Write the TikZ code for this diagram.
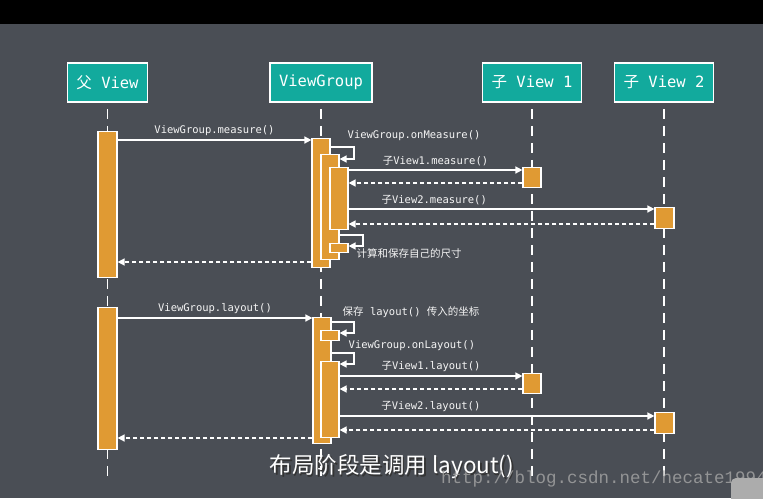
\documentclass[tikz,border=0pt]{standalone}
\usepackage{fontspec}
\setmonofont{DejaVu Sans Mono}
\newfontfamily\cjk{Noto Sans CJK SC}
\newfontfamily\wmfont{Liberation Mono}
\usetikzlibrary{arrows.meta}

\definecolor{bgcol}{HTML}{4A4E55}
\definecolor{headcol}{HTML}{12AA9D}
\definecolor{barcol}{HTML}{E09A33}

\tikzset{
  head/.style={draw=white, line width=1.5pt, fill=headcol, text=white, minimum height=39pt,
    inner xsep=9pt, font=\ttfamily\fontsize{15.5}{16}\selectfont},
  life/.style={draw=white, line width=1.8pt, dash pattern=on 10pt off 7pt},
  bar/.style={draw=white, line width=1.2pt, fill=barcol, minimum width=18pt, inner sep=0pt, anchor=north},
  call/.style={draw=white, line width=1.5pt, -{Triangle[length=7pt,width=7pt]}},
  ret/.style={call, dash pattern=on 4pt off 3pt},
  msg/.style={text=white!92!gray, font=\ttfamily\fontsize{10.5}{11}\selectfont, inner sep=1.5pt},
  lbl/.style={msg, above, yshift=2pt}
}

\begin{document}
\begin{tikzpicture}[x=1pt, y=-1pt]
\useasboundingbox (0,0) rectangle (763,498);
\clip (0,0) rectangle (763,498);
\fill[bgcol] (0,0) rectangle (763,498);
\fill[black] (0,0) rectangle (763,24);

\node[head] (P) at (107.5,82.5) {{\cjk 父} View};
\node[head] (G) at (321,82.5) {ViewGroup};
\node[head] (C1) at (532,82.5) {{\cjk 子} View 1};
\node[head] (C2) at (664,82.5) {{\cjk 子} View 2};

\draw[life] ([yshift=-6pt]P.south) -- (P.south |- 0,480);
\draw[life] ([yshift=-6pt]G.south) -- (G.south |- 0,480);
\draw[life] ([yshift=-6pt]C1.south) -- (C1.south |- 0,480);
\draw[life] ([yshift=-6pt]C2.south) -- (C2.south |- 0,480);

\node[bar, minimum width=19pt, minimum height=146pt] (P1) at (107.5,131) {};
\node[bar, minimum height=129pt] (G1) at (321,138) {};
\node[bar, minimum height=105pt] (G1b) at (330,154) {};
\node[bar, minimum height=62pt] (G1c) at (339,167) {};
\node[bar, minimum height=9pt] (G1d) at (339,243) {};
\node[bar, minimum height=20pt] (A1) at (532,167) {};
\node[bar, minimum width=19pt, minimum height=21pt] (B1) at (664.5,207) {};

\node[bar, minimum width=19pt, minimum height=142pt] (P2) at (107.5,307) {};
\node[bar, minimum height=126pt] (G2) at (322,317) {};
\node[bar, minimum height=10pt] (G2b) at (330,330) {};
\node[bar, minimum height=76pt] (G2c) at (330,361) {};
\node[bar, minimum height=20pt] (A2) at (532,373) {};
\node[bar, minimum width=19pt, minimum height=21pt] (B2) at (664.5,412) {};

\draw[call] (P1.east |- 0,140) -- node[lbl] {ViewGroup.measure()} (G1.west |- 0,140);
\draw[call] (G1.east |- 0,147) -- (354,147) -- (354,159) -- (G1b.east |- 0,159);
\node[msg, anchor=west] (onm) at (346,136) {ViewGroup.onMeasure()};
\draw[call] (G1c.east |- 0,170) -- node[lbl] {{\cjk 子}View1.measure()} (A1.west |- 0,170);
\draw[ret] (A1.west |- 0,183) -- (G1c.east |- 0,183);
\draw[call] (G1c.east |- 0,209) -- node[lbl, pos=0.28] {{\cjk 子}View2.measure()} (B1.west |- 0,209);
\draw[ret] (B1.west |- 0,224) -- (G1c.east |- 0,224);
\draw[call] (G1b.east |- 0,235) -- (363,235) -- (363,246) -- (G1d.east |- 0,246);
\node[msg, anchor=west] (size) at (355,254) {\cjk 计算和保存自己的尺寸};
\draw[ret] (G1.west |- 0,262) -- (P1.east |- 0,262);

\draw[call] (P2.east |- 0,318) -- node[lbl] {ViewGroup.layout()} (G2.west |- 0,318);
\draw[call] (G2.east |- 0,322) -- (354,322) -- (354,333) -- (G2b.east |- 0,333);
\node[msg, anchor=west] (save) at (341,312) {{\cjk 保存} layout() {\cjk 传入的坐标}};
\draw[call] (G2.east |- 0,353) -- (354,353) -- (354,364) -- (G2c.east |- 0,364);
\node[msg, anchor=west] (onl) at (347,346) {ViewGroup.onLayout()};
\draw[call] (G2c.east |- 0,376) -- node[lbl] {{\cjk 子}View1.layout()} (A2.west |- 0,376);
\draw[ret] (A2.west |- 0,389) -- (G2c.east |- 0,389);
\draw[call] (G2c.east |- 0,416) -- node[lbl, pos=0.29] {{\cjk 子}View2.layout()} (B2.west |- 0,416);
\draw[ret] (B2.west |- 0,430) -- (G2c.east |- 0,430);
\draw[ret] (G2.west |- 0,438) -- (P2.east |- 0,438);

\node[text=black!80, font=\cjk\fontsize{22.5}{23}\selectfont] (subs) at (393.5,468.5) {布局阶段是调用 layout()};
\node[text=white, font=\cjk\fontsize{22.5}{23}\selectfont] (sub) at (392,467) {布局阶段是调用 layout()};
\node[text=gray!70, opacity=0.8, font=\wmfont\fontsize{17.5}{18}\selectfont, anchor=base west, inner sep=0pt]
  (wm) at (441,483) {http://blog.csdn.net/hecate1994};
\fill[gray!65, rounded corners=5pt] (731,478) rectangle (785,515);
\end{tikzpicture}
\end{document}
